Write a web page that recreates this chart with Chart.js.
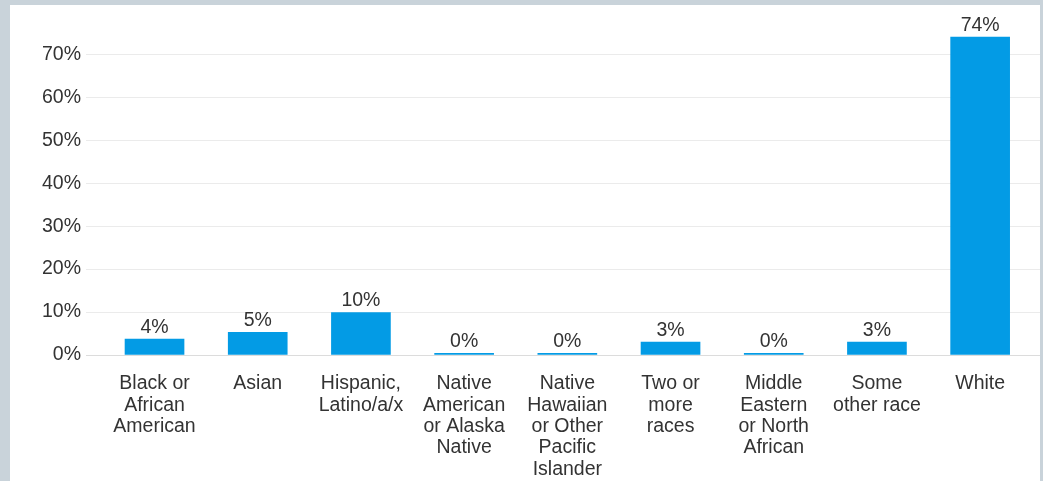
<!DOCTYPE html>
<html><head><meta charset="utf-8">
<script src="https://cdn.jsdelivr.net/npm/chart.js@4"></script>
<style>
html,body{margin:0;padding:0;background:#c9d3da;width:1043px;height:481px;overflow:hidden}
#panel{position:absolute;left:10px;top:5px;width:1030px;height:476px;background:#fff}
canvas{display:block}
</style></head><body>
<div id="panel"><canvas id="c" width="1030" height="476"></canvas></div>
<script>
const categories = [
  ["Black or","African","American"],
  ["Asian"],
  ["Hispanic,","Latino/a/x"],
  ["Native","American","or Alaska","Native"],
  ["Native","Hawaiian","or Other","Pacific","Islander"],
  ["Two or","more","races"],
  ["Middle","Eastern","or North","African"],
  ["Some","other race"],
  ["White"]
];
const values = [3.7, 5.3, 9.9, 0.4, 0.4, 3.0, 0.4, 3.0, 74.0];
const yTicks = [0, 10, 20, 30, 40, 50, 60, 70];

const FONT = "'Liberation Sans', Arial, sans-serif";
const FS = 19.5;
const barColor = '#039be5';

const labelPlugin = {
  id: 'barLabels',
  afterDatasetsDraw(chart) {
    const ctx = chart.ctx;
    const meta = chart.getDatasetMeta(0);
    ctx.save();
    ctx.font = FS + 'px ' + FONT;
    ctx.fillStyle = '#333';
    ctx.textAlign = 'center';
    ctx.textBaseline = 'alphabetic';
    meta.data.forEach((el, i) => {
      ctx.fillText(Math.round(values[i]) + '%', el.x, el.y - 6);
    });
    ctx.restore();
  }
};

new Chart(document.getElementById('c'), {
  type: 'bar',
  data: {
    datasets: [{
      data: values.map((v, i) => ({x: i, y: v})),
      backgroundColor: barColor,
      borderWidth: 0,
      barThickness: 59
    }]
  },
  options: {
    responsive: false,
    animation: false,
    devicePixelRatio: 1,
    layout: {padding: {top: 0, left: 0, right: 0, bottom: 0}},
    plugins: {legend: {display: false}, tooltip: {enabled: false}},
    scales: {
      x: {
        type: 'linear',
        offset: false,
        min: -0.664,
        max: 8.580,
        grid: {display: false, drawTicks: false, offset: false},
        border: {display: false},
        afterBuildTicks: (s) => { s.ticks = categories.map((_, i) => ({value: i})); },
        afterFit: (s) => { s.height = 126; },
        ticks: {
          autoSkip: false,
          maxRotation: 0,
          padding: 18,
          color: '#333',
          font: {family: FONT, size: FS, lineHeight: 1.1},
          callback: (v) => categories[v]
        }
      },
      y: {
        min: 0,
        max: 77.6,
        grid: {
          drawTicks: false,
          color: (c) => c.tick && c.tick.value === 0 ? '#dcdcdc' : '#ebebeb'
        },
        border: {display: false},
        afterBuildTicks: (s) => { s.ticks = yTicks.map(v => ({value: v})); },
        afterFit: (s) => { s.width = 76; },
        ticks: {
          padding: 5,
          color: '#333',
          font: {family: FONT, size: FS},
          callback: (v) => v + '%'
        }
      }
    }
  },
  plugins: [labelPlugin]
});
</script>
</body></html>
